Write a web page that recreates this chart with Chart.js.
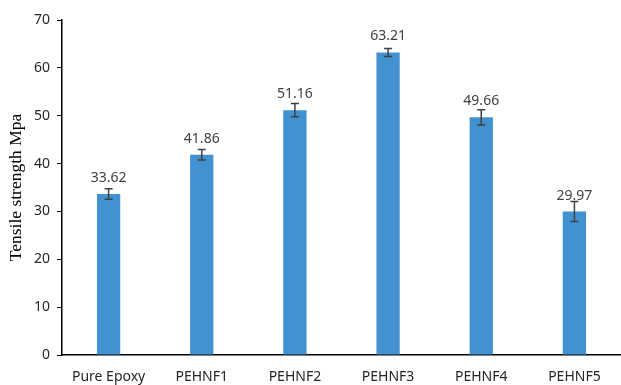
<!DOCTYPE html>
<html>
<head>
<meta charset="utf-8">
<script src="https://cdn.jsdelivr.net/npm/chart.js@4.4.1/dist/chart.umd.min.js"></script>
<style>
  html, body { margin: 0; padding: 0; background: #fff; }
  #wrap { width: 621px; height: 385px; }
</style>
</head>
<body>
<div id="wrap"><canvas id="chart"></canvas></div>
<script>
// Zugfestigkeit der Proben mit Standardabweichung
const samples = ['Pure Epoxy', 'PEHNF1', 'PEHNF2', 'PEHNF3', 'PEHNF4', 'PEHNF5'];
const strength = [33.62, 41.86, 51.16, 63.21, 49.66, 29.97];
const deviation = [1.1, 1.1, 1.4, 0.85, 1.6, 2.1];
const yTicks = [0, 10, 20, 30, 40, 50, 60, 70];

// Fehlerbalken und Werte über den Balken zeichnen
const errorBars = {
    id: 'errorBars',
    afterDatasetsDraw(chart) {
        const ctx = chart.ctx;
        const y = chart.scales.y;
        const meta = chart.getDatasetMeta(0);
        ctx.save();
        meta.data.forEach((bar, i) => {
            const top = y.getPixelForValue(strength[i] + deviation[i]);
            const bottom = y.getPixelForValue(strength[i] - deviation[i]);
            ctx.strokeStyle = '#404040';
            ctx.lineWidth = 1.5;
            ctx.beginPath();
            ctx.moveTo(bar.x, top);
            ctx.lineTo(bar.x, bottom);
            ctx.moveTo(bar.x - 4, top);
            ctx.lineTo(bar.x + 4, top);
            ctx.moveTo(bar.x - 4, bottom);
            ctx.lineTo(bar.x + 4, bottom);
            ctx.stroke();

            // Beschriftung relativ zur Balkenoberkante
            ctx.fillStyle = '#404040';
            ctx.font = '14px "Noto Sans"';
            ctx.textAlign = 'center';
            ctx.textBaseline = 'alphabetic';
            ctx.fillText(strength[i].toFixed(2), bar.x, bar.y - 12);
        });
        ctx.restore();
    }
};

new Chart(document.getElementById('chart'), {
    type: 'bar',
    data: {
        labels: samples,
        datasets: [{
            data: strength,
            backgroundColor: '#4292d2',
            borderWidth: 0,
            categoryPercentage: 1,
            barPercentage: 0.25
        }]
    },
    options: {
        responsive: true,
        maintainAspectRatio: false,
        animation: false,
        layout: { padding: { top: 20, right: -4, left: 0, bottom: 0 } },
        plugins: {
            legend: { display: false },
            tooltip: { enabled: false }
        },
        scales: {
            x: {
                afterFit(axis) { axis.height = 30; },
                grid: { display: false, drawTicks: false },
                border: { display: true, color: '#000', width: 1.5 },
                ticks: {
                    color: '#262626',
                    font: { family: '"Noto Sans"', size: 14 },
                    padding: 14,
                    maxRotation: 0
                }
            },
            y: {
                min: 0,
                max: 70,
                afterBuildTicks(axis) {
                    axis.ticks = yTicks.map(v => ({ value: v }));
                },
                afterFit(axis) { axis.width = 62; },
                grid: {
                    display: true,
                    drawOnChartArea: false,
                    drawTicks: true,
                    tickLength: 5,
                    color: '#000'
                },
                border: { display: true, color: '#000', width: 1.5 },
                ticks: {
                    color: '#262626',
                    font: { family: '"Noto Sans"', size: 14 },
                    padding: 7
                },
                title: {
                    display: true,
                    text: 'Tensile strength Mpa',
                    color: '#000',
                    font: { family: '"Liberation Serif"', size: 17.5 },
                    padding: { top: 6, bottom: 0 }
                }
            }
        }
    },
    plugins: [errorBars]
});
</script>
</body>
</html>
